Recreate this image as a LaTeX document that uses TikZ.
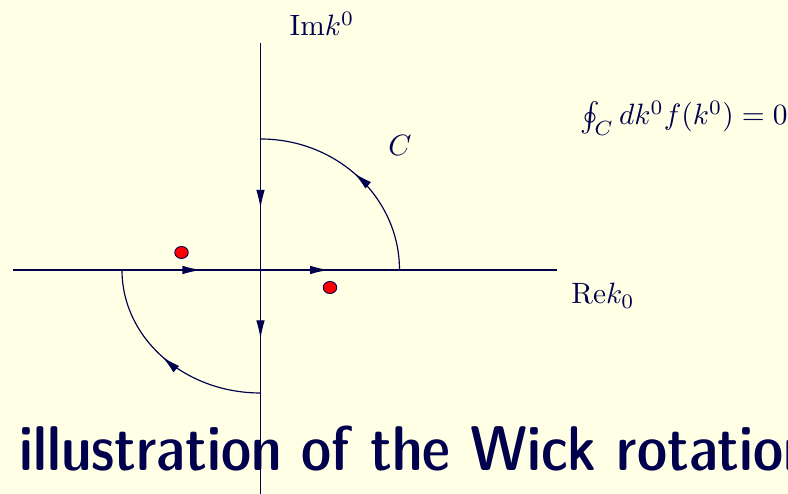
\documentclass[tikz,border=0pt]{standalone}
\usetikzlibrary{arrows.meta,decorations.markings,shapes.geometric}
\definecolor{navy}{RGB}{0,0,77}
\definecolor{slidebg}{RGB}{255,255,229}

\begin{document}
\begin{tikzpicture}[x=0.34pt, y=0.34pt, navy,
  axis/.style={draw=navy, line width=0.5pt},
  contour/.style={draw=navy, line width=0.4pt},
  midarrow/.style={postaction={decorate}, decoration={markings,
    mark=at position #1 with {\arrow{Latex[length=6.3pt,width=2.9pt]}}}},
  pole/.style={ellipse, draw=navy, fill=red, line width=0.3pt,
    minimum width=4.6pt, minimum height=4.1pt, inner sep=0pt},
  lbl/.style={text=navy, inner sep=0pt}]
  \fill[slidebg] (0,0) rectangle (788,494);
  \useasboundingbox (0,0) rectangle (788,494);
  \clip (0,0) rectangle (788,494);
  % axes
  \coordinate (O) at (260.5,224);
  \coordinate (xl) at (13,224);  \coordinate (xr) at (557,224);
  \coordinate (yb) at (260.5,0); \coordinate (yt) at (260.5,451);
  \draw[axis] (xl) -- (xr);
  \draw[axis] (yb) -- (yt);
  % contour end points
  \coordinate (R)   at (399.5,224);
  \coordinate (iR)  at (260.5,355);
  \coordinate (mR)  at (122,224);
  \coordinate (miR) at (260.5,101);
  % contour pieces
  \draw[contour, midarrow=0.57] (mR) -- (O);
  \draw[contour, midarrow=0.49] (O) -- (R);
  \draw[contour, midarrow=0.52] (R) arc[start angle=0, end angle=90,
    x radius=139, y radius=131];
  \draw[contour, midarrow=0.53] (iR) -- (O);
  \draw[contour, midarrow=0.56] (O) -- (miR);
  \draw[contour, midarrow=0.52] (miR) arc[start angle=270, end angle=180,
    x radius=138.5, y radius=123];
  % poles
  \node[pole] (p1) at (181.5,241.5) {};
  \node[pole] (p2) at (330,206.5) {};
  % labels
  \node[lbl, anchor=base] (im) at (322,458) {$\mathrm{Im}k^0$};
  \node[lbl, anchor=base] (re) at (603,190) {$\mathrm{Re}k_0$};
  \node[lbl, anchor=base] (c) at (400,338) {$C$};
  \node[lbl, anchor=base west] (int) at (580,369) {$\oint_C dk^0 f(k^0) = 0$};
  \node[lbl, anchor=base west] (title) at (19,23)
    {\fontsize{21.5}{26}\sffamily\fontseries{sbc}\selectfont illustration of the Wick rotation};
\end{tikzpicture}
\end{document}
